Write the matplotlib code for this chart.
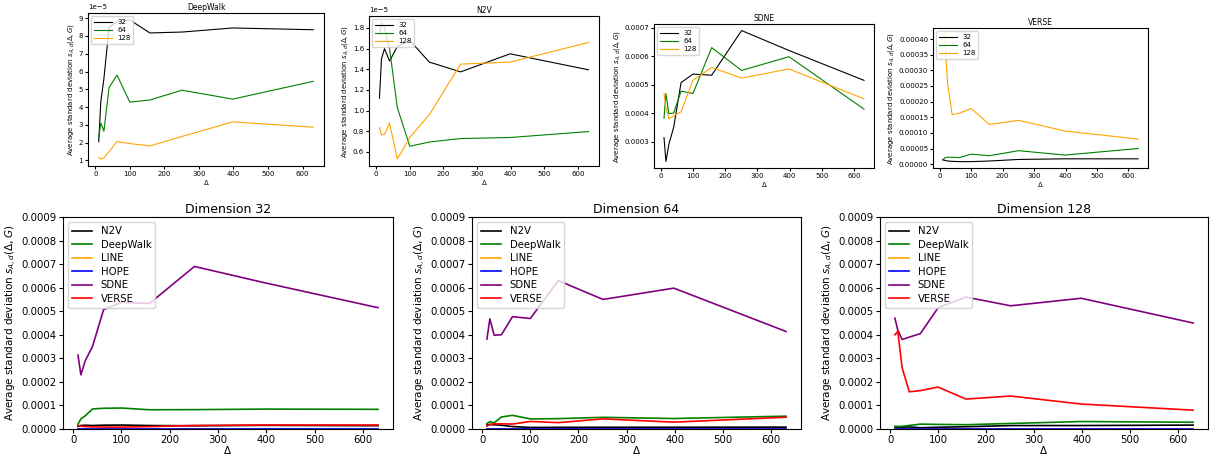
import numpy as np
import matplotlib
matplotlib.use("Agg")
import matplotlib.pyplot as plt

# window sizes (Delta)
deltas = [10, 16, 25, 40, 63, 100, 158, 251, 398, 631]
dims = [32, 64, 128]

# average std deviation per method and dimension
deepwalk_32 = [2.05e-5, 4.3e-5, 5.6e-5, 8.5e-5, 8.8e-5, 8.9e-5, 8.17e-5, 8.22e-5, 8.45e-5, 8.35e-5]
deepwalk_64 = [2.3e-5, 3.1e-5, 2.65e-5, 5.1e-5, 5.8e-5, 4.28e-5, 4.4e-5, 4.95e-5, 4.45e-5, 5.45e-5]
deepwalk_128 = [1.15e-5, 1.08e-5, 1.15e-5, 1.5e-5, 2.07e-5, 1.95e-5, 1.82e-5, 2.35e-5, 3.17e-5, 2.87e-5]

n2v_32 = [1.12e-5, 1.5e-5, 1.6e-5, 1.48e-5, 1.62e-5, 1.68e-5, 1.47e-5, 1.375e-5, 1.55e-5, 1.395e-5]
n2v_64 = [1.75e-5, 1.85e-5, 1.8e-5, 1.6e-5, 1.03e-5, 0.655e-5, 0.696e-5, 0.73e-5, 0.74e-5, 0.797e-5]
n2v_128 = [0.835e-5, 0.765e-5, 0.77e-5, 0.88e-5, 0.53e-5, 0.74e-5, 0.96e-5, 1.45e-5, 1.47e-5, 1.66e-5]

sdne_32 = [3.14e-4, 2.3e-4, 2.9e-4, 3.5e-4, 5.07e-4, 5.37e-4, 5.33e-4, 6.9e-4, 6.2e-4, 5.15e-4]
sdne_64 = [3.82e-4, 4.68e-4, 3.98e-4, 4.0e-4, 4.77e-4, 4.69e-4, 6.3e-4, 5.5e-4, 5.98e-4, 4.14e-4]
sdne_128 = [4.7e-4, 4.2e-4, 3.8e-4, 3.9e-4, 4.05e-4, 5.15e-4, 5.6e-4, 5.23e-4, 5.55e-4, 4.5e-4]

verse_32 = [1.5e-5, 1.2e-5, 1.0e-5, 0.9e-5, 0.8e-5, 0.8e-5, 1.0e-5, 1.5e-5, 1.7e-5, 1.7e-5]
verse_64 = [1.2e-5, 2.0e-5, 2.2e-5, 2.2e-5, 2.1e-5, 3.2e-5, 2.7e-5, 4.3e-5, 2.9e-5, 5.0e-5]
verse_128 = [4.0e-4, 4.15e-4, 2.6e-4, 1.58e-4, 1.63e-4, 1.78e-4, 1.27e-4, 1.4e-4, 1.06e-4, 0.8e-4]

line_all = [0, 0, 0, 0, 0, 0, 0, 0, 0, 0]
hope_all = [0, 0, 0, 0, 0, 0, 0, 0, 0, 0]

dim_colors = ["black", "green", "orange"]
ylab = r"Average standard deviation $s_{A,d}(\Delta, G)$"

W, H = 1211, 462
fig = plt.figure(figsize=(W / 100, H / 100), dpi=100)


def px_axes(l, r, t, b):
    return fig.add_axes([l / W, 1 - b / H, (r - l) / W, (b - t) / H])


# top row: one panel per method
top = [
    ("DeepWalk", [deepwalk_32, deepwalk_64, deepwalk_128], (88, 324, 13, 166)),
    ("N2V", [n2v_32, n2v_64, n2v_128], (369, 599, 16, 166)),
    ("SDNE", [sdne_32, sdne_64, sdne_128], (654, 874, 24, 168)),
    ("VERSE", [verse_32, verse_64, verse_128], (933, 1148, 28, 168)),
]
for name, series, box in top:
    ax = px_axes(*box)
    for d, ys, c in zip(dims, series, dim_colors):
        ax.plot(deltas, ys, color=c, lw=0.8, label=str(d))
    ax.set_title(name, fontsize=5.5, pad=2)
    ax.set_xlabel(r"$\Delta$", fontsize=5, labelpad=1)
    ax.set_ylabel(ylab, fontsize=5, labelpad=2)
    ax.tick_params(labelsize=5, length=2, pad=1.5)
    ax.yaxis.get_offset_text().set_fontsize(5)
    ax.set_xticks([0, 100, 200, 300, 400, 500, 600])
    ax.legend(loc="upper left", fontsize=5, handlelength=2.5, borderpad=0.4,
              labelspacing=0.3)

# bottom row: one panel per dimension
methods = ["N2V", "DeepWalk", "LINE", "HOPE", "SDNE", "VERSE"]
method_colors = ["black", "green", "orange", "blue", "purple", "red"]
by_dim = {
    32: [n2v_32, deepwalk_32, line_all, hope_all, sdne_32, verse_32],
    64: [n2v_64, deepwalk_64, line_all, hope_all, sdne_64, verse_64],
    128: [n2v_128, deepwalk_128, line_all, hope_all, sdne_128, verse_128],
}
bottom_boxes = [(63, 393, 217, 429), (472, 801, 217, 429), (880, 1208, 217, 429)]
for d, box in zip(dims, bottom_boxes):
    ax = px_axes(*box)
    for m, ys, c in zip(methods, by_dim[d], method_colors):
        ax.plot(deltas, ys, color=c, lw=1.2, label=m)
    ax.set_ylim(0, 0.0009)
    ax.set_xticks([0, 100, 200, 300, 400, 500, 600])
    ax.set_yticks(np.arange(0, 0.00091, 0.0001))
    ax.set_yticklabels(["%.4f" % v for v in np.arange(0, 0.00091, 0.0001)])
    ax.set_title("Dimension %d" % d, fontsize=9, pad=3)
    ax.set_xlabel(r"$\Delta$", fontsize=7.5, labelpad=-1)
    ax.set_ylabel(ylab, fontsize=7.5, labelpad=2)
    ax.tick_params(labelsize=7.3, length=3, pad=1.5)
    ax.legend(loc="upper left", fontsize=7.3, handlelength=2, borderpad=0.4,
              labelspacing=0.35)

fig.savefig("out.png", dpi=100)
